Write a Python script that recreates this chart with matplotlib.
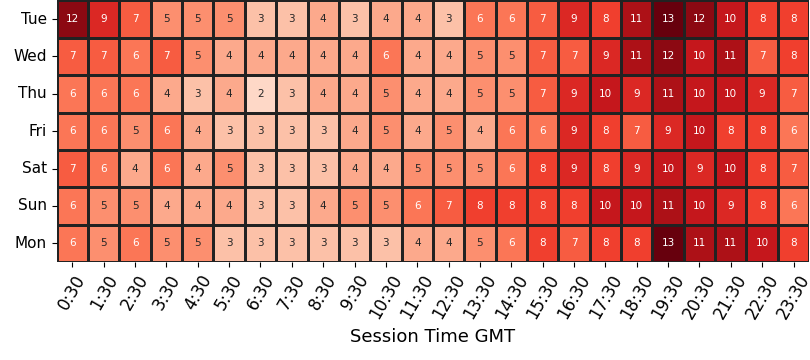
import matplotlib
matplotlib.use('Agg')
import matplotlib.pyplot as plt
import numpy as np
import pandas as pd
import seaborn as sns

days = ['Tue', 'Wed', 'Thu', 'Fri', 'Sat', 'Sun', 'Mon']
times = ['%d:30' % h for h in range(24)]

tue = [12, 9, 7, 5, 5, 5, 3, 3, 4, 3, 4, 4, 3, 6, 6, 7, 9, 8, 11, 13, 12, 10, 8, 8]
wed = [7, 7, 6, 7, 5, 4, 4, 4, 4, 4, 6, 4, 4, 5, 5, 7, 7, 9, 11, 12, 10, 11, 7, 8]
thu = [6, 6, 6, 4, 3, 4, 2, 3, 4, 4, 5, 4, 4, 5, 5, 7, 9, 10, 9, 11, 10, 10, 9, 7]
fri = [6, 6, 5, 6, 4, 3, 3, 3, 3, 4, 5, 4, 5, 4, 6, 6, 9, 8, 7, 9, 10, 8, 8, 6]
sat = [7, 6, 4, 6, 4, 5, 3, 3, 3, 4, 4, 5, 5, 5, 6, 8, 9, 8, 9, 10, 9, 10, 8, 7]
sun = [6, 5, 5, 4, 4, 4, 3, 3, 4, 5, 5, 6, 7, 8, 8, 8, 8, 10, 10, 11, 10, 9, 8, 6]
mon = [6, 5, 6, 5, 5, 3, 3, 3, 3, 3, 3, 4, 4, 5, 6, 8, 7, 8, 8, 13, 11, 11, 10, 8]

df = pd.DataFrame([tue, wed, thu, fri, sat, sun, mon], index=days, columns=times)

fig, ax = plt.subplots(figsize=(8.1, 3.6), dpi=100)
fig.subplots_adjust(left=0.07, right=0.999, top=0.999, bottom=0.272)

sns.heatmap(df, cmap='Reds', vmin=0, vmax=13, annot=True, fmt='d',
            annot_kws={'fontsize': 7.5}, linewidths=1, linecolor='#222222',
            cbar=False, ax=ax)

ax.set_xlabel('Session Time GMT', fontsize=13)
ax.set_ylabel('')
ax.set_xticklabels(times, rotation=60, fontsize=12)
ax.set_yticklabels(days, rotation=0, fontsize=11)

plt.savefig('out.png', dpi=100)
